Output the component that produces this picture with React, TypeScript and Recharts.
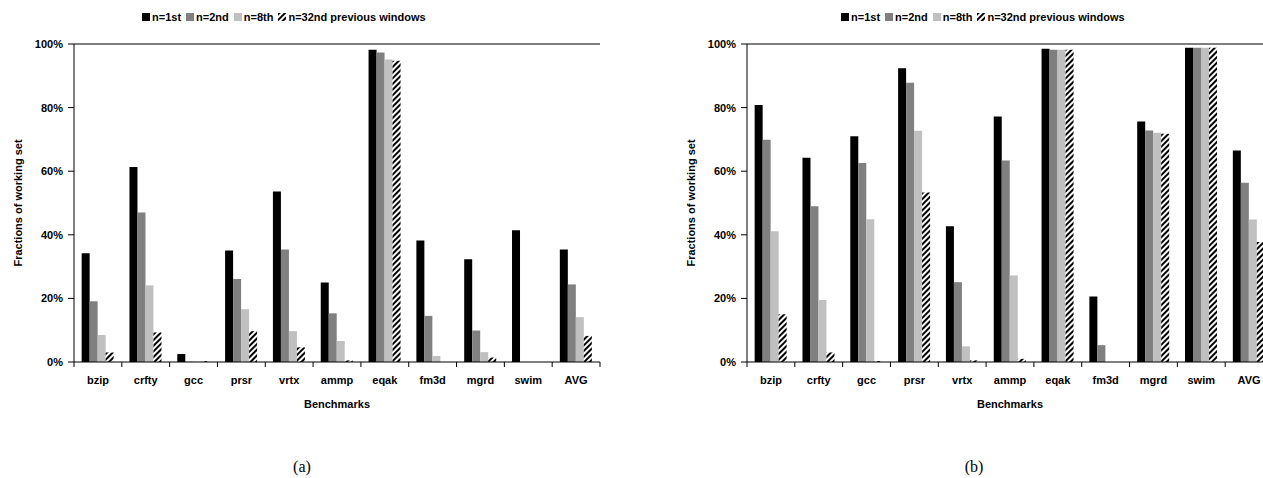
import React from "react"
import { BarChart, Bar, XAxis, YAxis, ReferenceLine, Legend } from "recharts"

const categories = ["bzip", "crfty", "gcc", "prsr", "vrtx", "ammp", "eqak", "fm3d", "mgrd", "swim", "AVG"]

// (a)
const aFirst = [34.2, 61.3, 2.5, 35.1, 53.6, 25.0, 98.2, 38.2, 32.3, 41.4, 35.4]
const aSecond = [19.1, 47.0, 0.1, 26.1, 35.4, 15.3, 97.3, 14.5, 9.9, 0, 24.4]
const aEighth = [8.5, 24.1, 0.1, 16.6, 9.7, 6.6, 95.1, 1.9, 3.1, 0, 14.1]
const aThirtySecond = [3.0, 9.3, 0.3, 9.7, 4.6, 0.5, 94.7, 0, 1.4, 0, 8.2]

// (b)
const bFirst = [80.8, 64.2, 71.0, 92.4, 42.7, 77.2, 98.5, 20.6, 75.6, 98.8, 66.5]
const bSecond = [69.9, 49.0, 62.6, 87.8, 25.1, 63.4, 98.2, 5.3, 72.8, 98.8, 56.4]
const bEighth = [41.1, 19.5, 44.9, 72.7, 4.9, 27.2, 98.2, 0, 72.1, 98.8, 44.8]
const bThirtySecond = [15.0, 3.0, 0.3, 53.3, 0.5, 1.0, 98.2, 0, 71.8, 98.8, 37.7]

const seriesKeys = ["n1", "n2", "n8", "n32"]
const seriesNames = ["n=1st", "n=2nd", "n=8th", "n=32nd previous windows"]
const yTicks = [0, 20, 40, 60, 80, 100]

const FONT = "'Liberation Sans', Arial, sans-serif"

const buildData = (s1: number[], s2: number[], s3: number[], s4: number[]) =>
    categories.map((name, i) => ({ name, n1: s1[i], n2: s2[i], n8: s3[i], n32: s4[i] }))

// category label + boundary tick marks
const CategoryTick = (props: any) => {
    const { x, y, payload, index, visibleTicksCount } = props
    const half = payload?.offset ?? 23.9
    const last = index === visibleTicksCount - 1
    return (
        <g>
            <line x1={x - half} x2={x - half} y1={y} y2={y + 5} stroke="#000" />
            {last && <line x1={x + half} x2={x + half} y1={y} y2={y + 5} stroke="#000" />}
            <text x={x} y={y + 22} textAnchor="middle" fontFamily={FONT} fontWeight="bold" fontSize={11} fill="#000">
                {payload.value}
            </text>
        </g>
    )
}

const YTitle = (props: any) => {
    const vb = props.viewBox
    const cx = vb.x + 18
    const cy = vb.y + vb.height / 2
    return (
        <text x={cx} y={cy} transform={`rotate(-90 ${cx} ${cy})`} textAnchor="middle" dominantBaseline="central"
            fontFamily={FONT} fontWeight="bold" fontSize={11} fill="#000" stroke="none">
            Fractions of working set
        </text>
    )
}

function Panel({ data, id, legendLeft }: { data: any[]; id: string; legendLeft: number }) {
    const fills = ["#000", "#808080", "#c0c0c0", `url(#${id})`]
    return (
        <BarChart width={620} height={420} data={data} margin={{ top: 44, right: 20, bottom: 7, left: 0 }}
            barCategoryGap="16%" barGap={0}>
            <defs>
                <pattern id={id} patternUnits="userSpaceOnUse" width="4" height="4" patternTransform="rotate(45)">
                    <rect width="4" height="4" fill="#fff" />
                    <rect width="2" height="4" fill="#000" />
                </pattern>
            </defs>
            <Legend
                verticalAlign="middle"
                align="center"
                wrapperStyle={{ top: 10, left: legendLeft, width: "auto", height: 14 }}
                content={() => (
                    <div style={{ display: "flex", alignItems: "center", fontFamily: FONT, fontWeight: "bold", fontSize: 11, lineHeight: "14px", whiteSpace: "nowrap", color: "#000" }}>
                        {seriesNames.map((name, i) => (
                            <span key={name} style={{ display: "flex", alignItems: "center", marginRight: 5 }}>
                                <svg width={8} height={8} style={{ marginRight: 2 }}>
                                    <rect width={8} height={8} fill={fills[i]} />
                                </svg>
                                {name}
                            </span>
                        ))}
                    </div>
                )}
            />
            <XAxis dataKey="name" interval={0} tickSize={0} tickMargin={0} tickLine={false} height={51}
                axisLine={{ stroke: "#000" }} tick={CategoryTick}
                label={{ value: "Benchmarks", position: "insideBottom", offset: 5, fontFamily: FONT, fontWeight: "bold", fontSize: 11, fill: "#000" }} />
            <YAxis width={74} domain={[0, 100]} ticks={yTicks} tickFormatter={(v) => `${v}%`} interval={0}
                tickSize={6} tickMargin={5} axisLine={{ stroke: "#000" }} tickLine={{ stroke: "#000" }}
                tick={{ fontFamily: FONT, fontWeight: "bold", fontSize: 11, fill: "#000" }}
                label={YTitle} />
            <YAxis yAxisId="border" orientation="right" width={0} domain={[0, 100]} tick={false} tickLine={false}
                axisLine={{ stroke: "#555", strokeWidth: 1.5 }} />
            <ReferenceLine y={100} stroke="#555" strokeWidth={1.5} />
            {seriesKeys.map((k, i) => (
                <Bar key={k} dataKey={k} name={seriesNames[i]} fill={fills[i]} isAnimationActive={false} />
            ))}
        </BarChart>
    )
}

export default function App() {
    const dataA = buildData(aFirst, aSecond, aEighth, aThirtySecond)
    const dataB = buildData(bFirst, bSecond, bEighth, bThirtySecond)
    const caption: React.CSSProperties = {
        position: "absolute", top: 458, width: 40, textAlign: "center",
        fontFamily: "'Liberation Serif', 'Times New Roman', serif", fontSize: 16, color: "#000",
    }
    return (
        <div style={{ position: "absolute", left: 0, top: 0, width: 1263, height: 478, overflow: "hidden", background: "#fff" }}>
            <div style={{ position: "absolute", left: 0, top: 0 }}>
                <Panel data={dataA} id="hatchA" legendLeft={142} />
            </div>
            <div style={{ position: "absolute", left: 673, top: 0 }}>
                <Panel data={dataB} id="hatchB" legendLeft={168} />
            </div>
            <div style={{ ...caption, left: 282 }}>(a)</div>
            <div style={{ ...caption, left: 954 }}>(b)</div>
        </div>
    )
}
